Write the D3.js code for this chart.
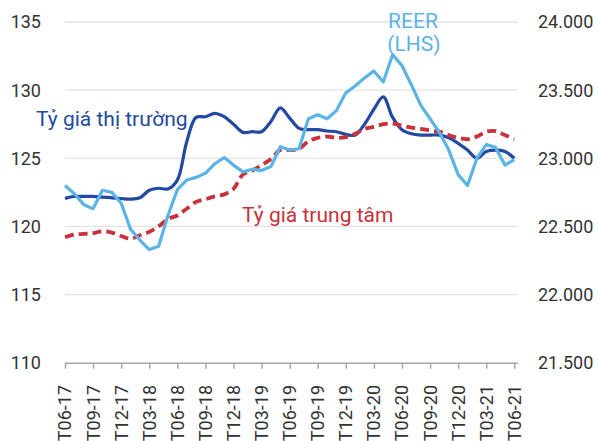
<!DOCTYPE html>
<html>
<head>
<meta charset="utf-8">
<script src="https://cdn.jsdelivr.net/npm/d3@7"></script>
<style>
  body { margin: 0; background: #fff; }
  svg text { font-family: Roboto, "Noto Sans", sans-serif; }
</style>
</head>
<body>
<svg id="chart" width="598" height="441"></svg>
<script>
// Months on the x axis
const months = [
  "T06-17","T07-17","T08-17","T09-17","T10-17","T11-17","T12-17",
  "T01-18","T02-18","T03-18","T04-18","T05-18","T06-18","T07-18","T08-18","T09-18","T10-18","T11-18","T12-18",
  "T01-19","T02-19","T03-19","T04-19","T05-19","T06-19","T07-19","T08-19","T09-19","T10-19","T11-19","T12-19",
  "T01-20","T02-20","T03-20","T04-20","T05-20","T06-20","T07-20","T08-20","T09-20","T10-20","T11-20","T12-20",
  "T01-21","T02-21","T03-21","T04-21","T05-21","T06-21"
];
const tickLabels = ["T06-17","T09-17","T12-17","T03-18","T06-18","T09-18","T12-18","T03-19","T06-19",
  "T09-19","T12-19","T03-20","T06-20","T09-20","T12-20","T03-21","T06-21"];

// REER index (left axis)
const reer = [123.0,122.4,121.6,121.3,122.65,122.5,121.7,119.8,119.0,118.3,
  118.55,120.8,122.7,123.4,123.6,123.9,124.6,125.05,124.5,124.0,
  124.2,124.1,124.4,125.85,125.6,125.7,127.9,128.2,127.9,128.5,
  129.8,130.3,130.9,131.4,130.6,132.6,131.8,130.4,128.9,127.9,
  126.9,125.6,123.8,123.0,125.0,126.0,125.8,124.5,124.9];

// Market rate, VND/USD (right axis)
const marketRate = [22706,22720,22720,22720,22715,22710,22705,22700,22710,22765,
  22780,22775,22840,23120,23300,23305,23330,23305,23250,23190,
  23195,23195,23270,23370,23295,23220,23210,23210,23200,23195,
  23175,23170,23250,23360,23450,23300,23210,23180,23170,23170,
  23170,23150,23110,23060,23000,23050,23060,23050,23000];

// Central rate, VND/USD (right axis)
const centralRate = [22420,22440,22445,22450,22465,22455,22430,22410,22435,22460,
  22500,22555,22580,22630,22680,22700,22720,22735,22775,22880,
  22910,22950,22995,23060,23060,23070,23125,23150,23160,23150,
  23155,23180,23215,23230,23250,23255,23240,23225,23215,23205,
  23195,23170,23150,23140,23160,23195,23200,23170,23140];

const leftTicks = [110, 115, 120, 125, 130, 135];
const rightTicks = [21500, 22000, 22500, 23000, 23500, 24000];

const svg = d3.select('#chart');

const x = d3.scalePoint().domain(months).range([65, 514.3]);
const yL = d3.scaleLinear().domain([110, 135]).range([362.7, 22]);
const yR = d3.scaleLinear().domain([21500, 24000]).range([362.7, 22]);

const fmtR = v => d3.format(',')(v).replace(/,/g, '.');

// Gridlines
svg.append('g')
  .selectAll('line')
  .data(leftTicks.slice(1))
  .enter().append('line')
  .attr('x1', 65).attr('x2', 518)
  .attr('y1', d => yL(d)).attr('y2', d => yL(d))
  .attr('stroke', '#e3e3e3')
  .attr('stroke-width', 1.3);

// Left axis labels
svg.append('g')
  .selectAll('text')
  .data(leftTicks)
  .enter().append('text')
  .attr('x', 41)
  .attr('y', d => yL(d))
  .attr('dy', '0.36em')
  .attr('text-anchor', 'end')
  .attr('fill', '#333')
  .style('font-size', '18px')
  .text(d => d);

// Right axis labels
svg.append('g')
  .selectAll('text')
  .data(rightTicks)
  .enter().append('text')
  .attr('x', 538)
  .attr('y', d => yR(d))
  .attr('dy', '0.36em')
  .attr('fill', '#333')
  .style('font-size', '18px')
  .text(d => fmtR(d));

// X axis
const xAxis = svg.append('g')
  .attr('transform', `translate(0,${yL(110)})`)
  .call(d3.axisBottom(x).tickValues(tickLabels).tickSize(6).tickFormat(''));
xAxis.select('.domain')
  .attr('d', `M65,0.5H518`)
  .attr('stroke', '#a6a6a6')
  .attr('stroke-width', 1.5);
xAxis.selectAll('.tick line').attr('stroke', '#a6a6a6').attr('stroke-width', 1.5);

svg.append('g')
  .selectAll('text')
  .data(tickLabels)
  .enter().append('text')
  .attr('transform', d => `translate(${x(d)},385) rotate(-90)`)
  .attr('dy', '0.36em')
  .attr('text-anchor', 'end')
  .attr('fill', '#333')
  .style('font-size', '18px')
  .text(d => d);

// Lines
const smoothR = d3.line()
  .x((d, i) => x(months[i]))
  .y(d => yR(d))
  .curve(d3.curveCatmullRom.alpha(0.5));

const straightL = d3.line()
  .x((d, i) => x(months[i]))
  .y(d => yL(d));

svg.append('path')
  .datum(marketRate)
  .attr('d', smoothR)
  .attr('fill', 'none')
  .attr('stroke', '#2349a3')
  .attr('stroke-width', 3.2)
  .attr('stroke-linejoin', 'round');

svg.append('path')
  .datum(centralRate)
  .attr('d', smoothR)
  .attr('fill', 'none')
  .attr('stroke', '#c9313b')
  .attr('stroke-width', 3.8)
  .attr('stroke-dasharray', '9,5');

svg.append('path')
  .datum(reer)
  .attr('d', straightL)
  .attr('fill', 'none')
  .attr('stroke', '#5cb4e6')
  .attr('stroke-width', 3.2)
  .attr('stroke-linejoin', 'round');

// Series labels
svg.append('text')
  .attr('x', 36).attr('y', 125.5)
  .attr('fill', '#2349a3')
  .style('font-size', '21px')
  .text('Tỷ giá thị trường');

svg.append('text')
  .attr('x', 242).attr('y', 221.5)
  .attr('fill', '#c9313b')
  .style('font-size', '21px')
  .text('Tỷ giá trung tâm');

const reerLabel = svg.append('text')
  .attr('fill', '#5cb4e6')
  .attr('text-anchor', 'middle')
  .style('font-size', '21px');
reerLabel.append('tspan').attr('x', 413).attr('y', 28).text('REER');
reerLabel.append('tspan').attr('x', 414).attr('y', 51).text('(LHS)');
</script>
</body>
</html>
